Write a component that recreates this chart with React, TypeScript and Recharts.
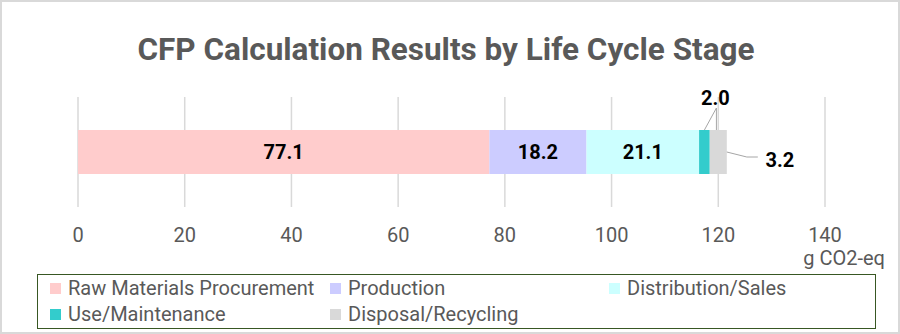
import React from "react";
import { BarChart, Bar, XAxis, YAxis, CartesianGrid, LabelList } from "recharts";

// data
const categories = ["CFP"];
const stages = [
  "Raw Materials Procurement",
  "Production",
  "Distribution/Sales",
  "Use/Maintenance",
  "Disposal/Recycling",
];
const stageValues = [77.1, 18.2, 21.1, 2.0, 3.2];
const stageColors = ["#FFCCCC", "#CCCCFF", "#CCFFFF", "#33CCCC", "#D9D9D9"];
const xTicks = [0, 20, 40, 60, 80, 100, 120, 140];
const unitLabel = "g CO2-eq";
const title = "CFP Calculation Results by Life Cycle Stage";

const chartData = categories.map((name) => {
  const row: Record<string, string | number> = { name };
  stages.forEach((s, i) => {
    row[`s${i}`] = stageValues[i];
  });
  return row;
});

const labelStyle = {
  fontFamily: "Roboto, sans-serif",
  fontSize: 20,
  fontWeight: 700,
  fill: "#000",
};

// label above the bar with a leader line (Use/Maintenance)
const TopLeaderLabel = (props: any) => {
  const { x, y, width, value } = props;
  const cx = x + width / 2;
  const lx = cx + 12;
  return (
    <g>
      <line x1={lx} y1={y - 22} x2={cx} y2={y} stroke="#A6A6A6" strokeWidth={1} />
      <line x1={lx} y1={y - 22} x2={lx} y2={y} stroke="#A6A6A6" strokeWidth={1} />
      <text x={lx - 1} y={y - 25} textAnchor="middle" style={labelStyle}>
        {Number(value).toFixed(1)}
      </text>
    </g>
  );
};

// label right of the bar with a leader line (Disposal/Recycling)
const RightLeaderLabel = (props: any) => {
  const { x, y, width, value } = props;
  const ex = x + width;
  const ey = y + 22;
  return (
    <g>
      <polyline
        points={`${ex},${ey} ${ex + 20},${ey + 5} ${ex + 31},${ey + 5}`}
        fill="none"
        stroke="#A6A6A6"
        strokeWidth={1}
      />
      <text x={ex + 53} y={ey + 15} textAnchor="middle" style={labelStyle}>
        {Number(value).toFixed(1)}
      </text>
    </g>
  );
};

export default function App() {
  return (
    <div
      style={{
        position: "absolute",
        left: 0,
        top: 0,
        width: 900,
        height: 334,
        background: "#fff",
        border: "2px solid #D9D9D9",
        boxSizing: "border-box",
        overflow: "hidden",
      }}
    >
      <svg
        width={900}
        height={90}
        style={{ position: "absolute", left: -2, top: -2 }}
      >
        <text
          x={446}
          y={60}
          textAnchor="middle"
          textLength={617}
          lengthAdjust="spacingAndGlyphs"
          style={{
            fontFamily: "Roboto, sans-serif",
            fontSize: 32,
            fontWeight: 700,
            fill: "#595959",
          }}
        >
          {title}
        </text>
      </svg>
      <div style={{ position: "absolute", left: -2, top: -2 }}>
        <BarChart
          width={900}
          height={334}
          data={chartData}
          layout="vertical"
          margin={{ top: 97, right: 75, left: 78, bottom: 87 }}
        >
          <CartesianGrid horizontal={false} stroke="#D9D9D9" strokeWidth={1.5} />
          <XAxis
            type="number"
            domain={[0, 140]}
            ticks={xTicks}
            axisLine={false}
            tickLine={false}
            tickSize={0}
            tickMargin={21}
            height={40}
            tick={{ fill: "#595959", fontSize: 20, fontFamily: "Roboto, sans-serif" }}
          />
          <YAxis type="category" dataKey="name" hide />
          {stages.map((s, i) => (
            <Bar
              key={s}
              dataKey={`s${i}`}
              name={s}
              stackId="a"
              fill={stageColors[i]}
              barSize={44}
              isAnimationActive={false}
            >
              {i < 3 && (
                <LabelList
                  dataKey={`s${i}`}
                  position="center"
                  formatter={(v: any) => Number(v).toFixed(1)}
                  style={labelStyle}
                />
              )}
              {i === 3 && <LabelList dataKey={`s${i}`} content={TopLeaderLabel} />}
              {i === 4 && <LabelList dataKey={`s${i}`} content={RightLeaderLabel} />}
            </Bar>
          ))}
        </BarChart>
      </div>
      <div
        style={{
          position: "absolute",
          left: 780 - 2,
          top: 250 - 2,
          width: 105,
          textAlign: "right",
          fontFamily: "Roboto, sans-serif",
          fontSize: 20,
          color: "#595959",
          whiteSpace: "nowrap",
          lineHeight: "16px",
        }}
      >
        {unitLabel}
      </div>
      <div
        style={{
          position: "absolute",
          left: 37 - 2,
          top: 274 - 2,
          width: 839,
          height: 55,
          border: "1.5px solid #385723",
          boxSizing: "border-box",
          paddingLeft: 12,
          paddingTop: 0,
          display: "grid",
          gridTemplateColumns: "280px 279px 240px",
          gridAutoRows: "26px",
          fontFamily: "Roboto, sans-serif",
          fontSize: 20,
          color: "#595959",
        }}
      >
        {stages.map((s, i) => (
          <div key={s} style={{ display: "flex", alignItems: "center", whiteSpace: "nowrap" }}>
            <span
              style={{
                display: "inline-block",
                width: 11,
                height: 11,
                background: stageColors[i],
                marginRight: 7,
              }}
            />
            {s}
          </div>
        ))}
      </div>
    </div>
  );
}
